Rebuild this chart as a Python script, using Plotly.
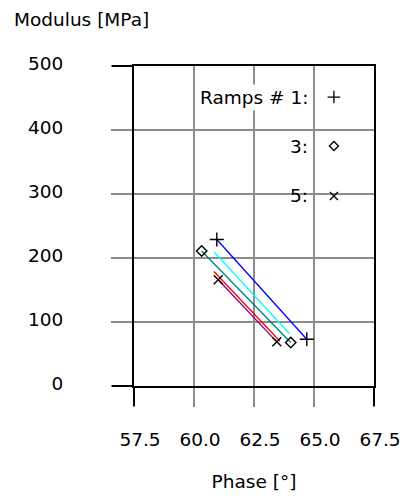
import plotly.graph_objects as go

# Ramp end points: phase angle [deg] and dynamic modulus [MPa]
ramp_ids = [1, 2, 3, 4, 5]
phase_start = [60.95, 60.85, 60.32, 60.83, 61.01]
phase_end = [64.70, 63.97, 64.03, 63.58, 63.45]
modulus_start = [229, 209, 211, 179, 166]
modulus_end = [73, 82, 68, 70, 69]

line_colors = ["#0000FF", "#00FFFF", "#008080", "#FF0000", "#800080"]
marker_symbols = ["cross-thin", None, "diamond-open", None, "x-thin"]
marker_sizes = [10, 0, 8, 0, 9]

# Legend entries (only marked ramps are listed)
legend_labels = ["Ramps # 1:", "3:", "5:"]
legend_symbols = ["cross-thin", "diamond-open", "x-thin"]
legend_sizes = [9, 7, 8]

x_ticks = [57.5, 60.0, 62.5, 65.0, 67.5]
y_ticks = [0, 100, 200, 300, 400, 500]

FONT = "DejaVu Sans"
FS = 18.5
GRID = "#8c8c8c"

fig = go.Figure()

for i, rid in enumerate(ramp_ids):
    fig.add_trace(go.Scatter(
        x=[phase_start[i], phase_end[i]], y=[modulus_start[i], modulus_end[i]],
        mode="lines", name=f"Ramp {rid}",
        line=dict(color=line_colors[i], width=1.3),
        showlegend=False, hoverinfo="skip",
    ))
for i, rid in enumerate(ramp_ids):
    if marker_symbols[i] is None:
        continue
    fig.add_trace(go.Scatter(
        x=[phase_start[i], phase_end[i]], y=[modulus_start[i], modulus_end[i]],
        mode="markers", name=f"Ramp {rid} ends",
        marker=dict(symbol=marker_symbols[i], size=marker_sizes[i], color="black",
                    line=dict(color="black", width=1.4)),
        showlegend=False, hoverinfo="skip",
    ))

# Legend rows drawn on a unit overlay frame
legend_x = 0.833
legend_y = [0.903, 0.750, 0.594]
for sym, sz, ly in zip(legend_symbols, legend_sizes, legend_y):
    fig.add_trace(go.Scatter(
        x=[legend_x], y=[ly], mode="markers", xaxis="x2", yaxis="y2",
        marker=dict(symbol=sym, size=sz, color="black", line=dict(color="black", width=1.3)),
        showlegend=False, hoverinfo="skip",
    ))
for lab, ly, bg in zip(legend_labels, legend_y, ["white", "rgba(0,0,0,0)", "rgba(0,0,0,0)"]):
    fig.add_annotation(
        x=0.7375, y=ly, xref="x2", yref="y2", text=lab, showarrow=False,
        xanchor="right", yanchor="middle", bgcolor=bg, borderpad=2,
        font=dict(family=FONT, size=FS, color="black"),
    )

fig.update_layout(
    width=406, height=496,
    margin=dict(l=134, r=32, t=66, b=110, autoexpand=False),
    paper_bgcolor="white", plot_bgcolor="white",
    font=dict(family=FONT, size=FS, color="black"),
    title=dict(text="Modulus [MPa]", x=14 / 406, xanchor="left", xref="container",
               y=1 - 20 / 496, yanchor="middle", font=dict(family=FONT, size=FS, color="black"),
               automargin=False),
    xaxis=dict(
        range=[57.5, 67.5], tickvals=x_ticks, ticktext=[f"{v:.1f}" for v in x_ticks],
        ticks="outside", ticklen=19, tickwidth=1.5, tickcolor=GRID,
        showgrid=True, gridcolor=GRID, gridwidth=1.5, zeroline=False,
        showline=True, linecolor="black", linewidth=2, mirror=True,
        ticklabelstandoff=17, ticklabelshift=6, automargin=False,
        title=dict(text="Phase [°]", standoff=26, font=dict(family=FONT, size=FS)),
        fixedrange=True,
    ),
    yaxis=dict(
        range=[0, 500], tickvals=y_ticks, ticktext=[str(v) for v in y_ticks],
        ticks="outside", ticklen=21, tickwidth=1.5, tickcolor=GRID,
        showgrid=True, gridcolor=GRID, gridwidth=1.5, zeroline=False,
        showline=True, linecolor="black", linewidth=2, mirror=True,
        ticklabelstandoff=44, ticklabelshift=-2, automargin=False,
        fixedrange=True,
    ),
    xaxis2=dict(
        overlaying="x", anchor="y2", range=[0, 1], tickvals=[0, 1],
        ticks="outside", ticklen=19, tickwidth=2, tickcolor="black",
        showticklabels=False, showgrid=False, zeroline=False, showline=False,
        automargin=False, fixedrange=True,
    ),
    yaxis2=dict(
        overlaying="y", anchor="x2", range=[0, 1], tickvals=[0, 1],
        ticks="outside", ticklen=21, tickwidth=2, tickcolor="black",
        showticklabels=False, showgrid=False, zeroline=False, showline=False,
        automargin=False, fixedrange=True,
    ),
)

fig.write_html("out.html")
